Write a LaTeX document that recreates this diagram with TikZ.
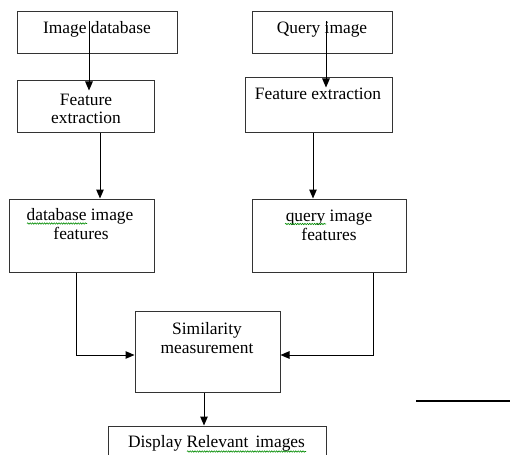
\documentclass[tikz,border=0pt]{standalone}
\usepackage{fontspec}
\setmainfont{Liberation Serif}
\usetikzlibrary{arrows.meta,decorations.pathmorphing}
\tikzset{
  box/.style={draw=black!80, line width=1pt, inner sep=0pt, fill=white},
  txt/.style={anchor=base, inner sep=0pt, text=black, font=\fontsize{17.4}{19}\selectfont},
  arr/.style={draw=black, line width=1pt, -{Triangle[length=9pt,width=7.5pt]}},
  squig/.style={draw=green!55!black, line width=0.6pt, decorate,
    decoration={snake, amplitude=0.7pt, segment length=2.4pt}},
  rule/.style={draw=black, line width=2pt}
}
\begin{document}
\begin{tikzpicture}[x=1pt, y=-1pt]
\clip (0,0) rectangle (510,454);
\fill[white] (0,0) rectangle (510,454);

% boxes
\node[box, minimum width=160pt, minimum height=42pt] (imgdb) at (97,33) {};
\node[box, minimum width=137pt, minimum height=52pt] (fe1) at (85.5,107) {};
\node[box, minimum width=140pt, minimum height=42pt] (qimg) at (322,33) {};
\node[box, minimum width=147pt, minimum height=55pt] (fe2) at (318.5,105.5) {};
\node[box, minimum width=145pt, minimum height=73pt] (dbf) at (81.5,235.5) {};
\node[box, minimum width=154pt, minimum height=73pt] (qf) at (329,235.5) {};
\node[box, minimum width=145pt, minimum height=81pt] (sim) at (207.5,351.5) {};
\node[box, minimum width=218pt, minimum height=44pt] (disp) at (217,448) {};

% texts
\node[txt] (t1) at (97,34) {Image database};
\node[txt] (t2a) at (86,106) {Feature};
\node[txt] (t2b) at (86,124) {extraction};
\node[txt] (t3) at (322,34) {Query image};
\node[txt] (t4) at (318,100) {Feature extraction};
\node[txt] (t5a) at (80,220) {database image};
\node[txt] (t5b) at (81,239) {features};
\node[txt] (t6a) at (329,221) {query image};
\node[txt] (t6b) at (329,240) {features};
\node[txt] (t7a) at (207,334) {Similarity};
\node[txt] (t7b) at (207,353) {measurement};
\node[txt] (t8) at (216.5,447) {Display Relevant\, images};

% spell-check underlines
\draw[squig] (27,223.5) -- (87,223.5);
\draw[squig] (285,224) -- (326,224);
\draw[squig] (187,451.5) -- (306,451.5);

% connectors
\draw[arr] ([shift={(-8,10)}]imgdb.north) -- ([shift={(-8,10)}]imgdb.north |- fe1.north);
\draw[arr] ([shift={(4,10)}]qimg.north) -- ([shift={(4,10)}]qimg.north |- fe2.north);
\draw[arr] ([shift={(14.5,0)}]fe1.south) -- ([shift={(14.5,0)}]fe1.south |- dbf.north);
\draw[arr] ([shift={(-5.5,0)}]fe2.south) -- ([shift={(-5.5,0)}]fe2.south |- qf.north);
\draw[arr] ([shift={(-5.5,0)}]dbf.south) |- ([shift={(0,3.5)}]sim.west);
\draw[arr] ([shift={(44,0)}]qf.south) |- ([shift={(0,3.5)}]sim.east);
\draw[arr] ([shift={(-3.5,0)}]sim.south) -- ([shift={(-3.5,0)}]sim.south |- disp.north);

% stray rule
\coordinate (hl1) at (416,401);
\coordinate (hl2) at (510,401);
\draw[rule] (hl1) -- (hl2);
\end{tikzpicture}
\end{document}
